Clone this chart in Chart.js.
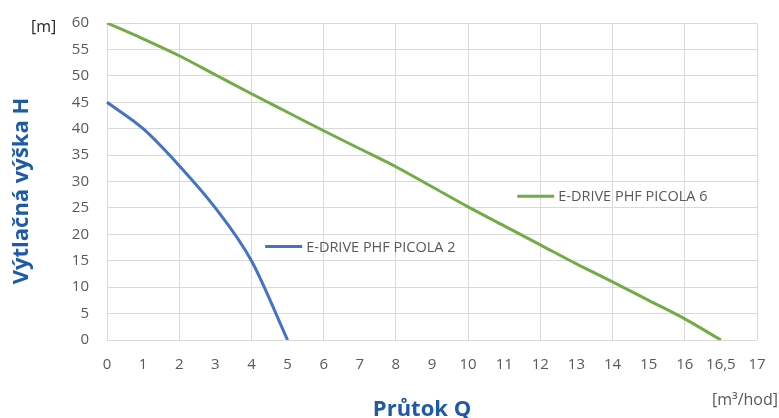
<!DOCTYPE html>
<html>
<head>
<meta charset="utf-8">
<script src="https://cdn.jsdelivr.net/npm/chart.js@4/dist/chart.umd.min.js"></script>
<style>
  html, body { margin: 0; padding: 0; background: #fff; }
  #wrap { width: 779px; height: 418px; position: relative; }
</style>
</head>
<body>
<div id="wrap"><canvas id="mycanvas"></canvas></div>
<script>
// flow Q [m3/hod] - category labels as printed on the axis
var flowLabels = ['0', '1', '2', '3', '4', '5', '6', '7', '8', '9', '10', '11', '12', '13', '14', '15', '16', '16,5', '17'];
// head H [m]
var picola2 = [45, 40, 33, 25, 15, 0];
var picola6 = [60, 57, 53.8, 50.2, 46.6, 43.1, 39.6, 36.2, 32.8, 29, 25.2, 21.6, 18, 14.4, 11, 7.5, 4, 0];
var seriesNames = ['E-DRIVE PHF PICOLA 2', 'E-DRIVE PHF PICOLA 6'];
var seriesColors = ['#4472c4', '#70ad47'];

var txtFont = '"Open Sans", sans-serif';
var titleBlue = '#1d5aa8';

// in-plot series labels, placed in data coordinates (category index, head)
var tagSpots = [
    { x: 4.38, y: 17.7 },
    { x: 11.36, y: 27.2 }
];

var decorations = {
    id: 'decorations',
    afterDatasetsDraw: function(chart) {
        var c = chart.ctx;
        var xs = chart.scales.x, ys = chart.scales.y;
        c.save();
        // series tags
        c.font = '14.5px ' + txtFont;
        c.textBaseline = 'middle';
        c.textAlign = 'left';
        for (var i = 0; i < tagSpots.length; i++) {
            var px = xs.getPixelForValue(tagSpots[i].x);
            var py = ys.getPixelForValue(tagSpots[i].y);
            c.strokeStyle = seriesColors[i];
            c.lineWidth = 3;
            c.beginPath();
            c.moveTo(px, py);
            c.lineTo(px + 37, py);
            c.stroke();
            c.fillStyle = '#595959';
            c.fillText(seriesNames[i], px + 41, py + 1);
        }
        // unit labels
        c.fillStyle = '#262626';
        c.font = '16px ' + txtFont;
        c.textAlign = 'left';
        c.fillText('[m]', 31, 27);
        c.fillStyle = '#595959';
        c.textAlign = 'right';
        c.fillText('[m³/hod]', 778, 400);
        // axis titles
        c.fillStyle = titleBlue;
        c.font = 'bold 22px ' + txtFont;
        c.textAlign = 'center';
        c.fillText('Průtok Q', 422, 410);
        c.translate(22, 191);
        c.rotate(-Math.PI / 2);
        c.fillText('Výtlačná výška H', 0, 0);
        c.restore();
    }
};

var ctx = document.getElementById('mycanvas');
var lineChart = new Chart(ctx, {
    type: 'line',
    data: {
        labels: flowLabels,
        datasets: [
            {
                label: seriesNames[0],
                data: picola2,
                borderColor: seriesColors[0],
                borderWidth: 3,
                pointRadius: 0,
                cubicInterpolationMode: 'monotone',
                fill: false
            },
            {
                label: seriesNames[1],
                data: picola6,
                borderColor: seriesColors[1],
                borderWidth: 3,
                pointRadius: 0,
                cubicInterpolationMode: 'monotone',
                fill: false
            }
        ]
    },
    options: {
        responsive: true,
        maintainAspectRatio: false,
        animation: false,
        layout: { padding: { left: 0, right: 22, top: 23, bottom: 0 } },
        plugins: {
            legend: { display: false },
            tooltip: { enabled: false }
        },
        scales: {
            x: {
                type: 'category',
                offset: false,
                afterFit: function(s) {
                    s.height = 78;
                    s.paddingLeft = 0;
                    s.paddingRight = 0;
                },
                border: { display: false },
                grid: {
                    drawTicks: false,
                    color: function(c) { return c.index % 2 === 0 ? '#d9d9d9' : 'rgba(0,0,0,0)'; }
                },
                ticks: {
                    padding: 16,
                    autoSkip: false,
                    maxRotation: 0,
                    color: '#595959',
                    font: { family: txtFont, size: 15 }
                }
            },
            y: {
                min: 0,
                max: 60,
                afterFit: function(s) {
                    s.width = 107;
                    s.paddingTop = 0;
                    s.paddingBottom = 0;
                },
                border: { display: false },
                grid: { drawTicks: false, color: '#d9d9d9' },
                ticks: {
                    stepSize: 5,
                    padding: 18,
                    color: '#595959',
                    font: { family: txtFont, size: 15 }
                }
            }
        }
    },
    plugins: [decorations]
});
</script>
</body>
</html>
